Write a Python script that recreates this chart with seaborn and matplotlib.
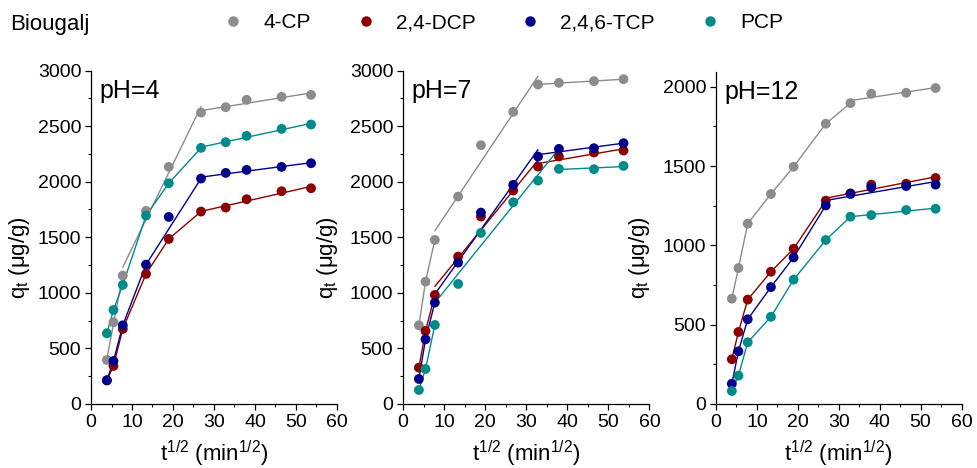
import numpy as np
import pandas as pd
import seaborn as sns
import matplotlib
matplotlib.use("Agg")
import matplotlib.pyplot as plt
from matplotlib.lines import Line2D
from matplotlib.ticker import MultipleLocator

# ---------------- data ----------------
sqrt_t = [3.87, 5.48, 7.75, 13.42, 18.97, 26.83, 32.86, 37.95, 46.48, 53.67]
compounds = ["4-CP", "2,4-DCP", "2,4,6-TCP", "PCP"]
colors = ["#8c8c8c", "#8b0000", "#00008b", "#008b8b"]
ph_labels = ["pH=4", "pH=7", "pH=12"]
legend_title = "Biougalj"

ph4_4cp = [396, 735, 1155, 1737, 2133, 2622, 2670, 2736, 2763, 2781]
ph4_dcp = [213, 342, 675, 1170, 1485, 1731, 1767, 1842, 1914, 1941]
ph4_tcp = [213, 387, 708, 1254, 1683, 2028, 2079, 2106, 2133, 2166]
ph4_pcp = [636, 846, 1071, 1695, 1986, 2304, 2355, 2412, 2475, 2514]

ph7_4cp = [708, 1101, 1476, 1866, 2328, 2628, 2874, 2889, 2904, 2922]
ph7_dcp = [327, 657, 981, 1326, 1686, 1920, 2136, 2226, 2262, 2280]
ph7_tcp = [225, 582, 912, 1272, 1722, 1971, 2226, 2295, 2301, 2346]
ph7_pcp = [126, 315, 711, 1080, 1539, 1815, 2010, 2115, 2112, 2142]

ph12_4cp = [664, 857, 1137, 1324, 1496, 1767, 1897, 1956, 1962, 1992]
ph12_dcp = [282, 454, 658, 834, 979, 1282, 1328, 1383, 1389, 1425]
ph12_tcp = [128, 332, 534, 737, 924, 1252, 1324, 1366, 1374, 1383]
ph12_pcp = [82, 179, 389, 550, 784, 1034, 1181, 1191, 1223, 1231]

panels = {
    "pH=4": [ph4_4cp, ph4_dcp, ph4_tcp, ph4_pcp],
    "pH=7": [ph7_4cp, ph7_dcp, ph7_tcp, ph7_pcp],
    "pH=12": [ph12_4cp, ph12_dcp, ph12_tcp, ph12_pcp],
}


# multilinear (intraparticle diffusion) stages: (indices used for the fit, draw from, draw to)
def chain(a, b):
    return [((i, i + 1), i, i + 1) for i in range(a, b)]


stages = {
    "pH=4": [
        [((0, 1, 2), 0, 2), ((2, 3, 4, 5), 2, 5), ((5, 6, 7, 8, 9), 5, 9)],
        chain(0, 5) + [((5, 6, 7, 8, 9), 5, 9)],
        chain(0, 3) + [((3, 5), 3, 5), ((5, 6, 7, 8, 9), 5, 9)],
        chain(0, 5) + [((5, 6, 7, 8, 9), 5, 9)],
    ],
    "pH=7": [
        chain(0, 2) + [((2, 3, 4, 5, 6), 2, 6), ((6, 7, 8, 9), 6, 9)],
        chain(0, 2) + [((2, 3, 4, 5, 6), 2, 6), ((6, 7, 8, 9), 6, 9)],
        chain(0, 2) + [((2, 3, 4, 5, 6), 2, 6), ((6, 7, 8, 9), 6, 9)],
        chain(0, 2) + [((3, 4, 5, 6), 2, 7), ((7, 8, 9), 7, 9)],
    ],
    "pH=12": [
        chain(0, 6) + [((6, 7, 8, 9), 6, 9)],
        chain(0, 5) + [((5, 6, 7, 8, 9), 5, 9)],
        chain(0, 5) + [((5, 6, 7, 8, 9), 5, 9)],
        chain(0, 6) + [((6, 7, 8, 9), 6, 9)],
    ],
}

rows = []
for ph, series in panels.items():
    for comp, vals in zip(compounds, series):
        for x, q in zip(sqrt_t, vals):
            rows.append({"ph": ph, "compound": comp, "x": x, "q": q})
df = pd.DataFrame(rows)

# ---------------- style ----------------
sns.set_theme(style="ticks")
plt.rcParams["font.family"] = ["Liberation Sans", "DejaVu Sans"]
plt.rcParams.update({
    "mathtext.fontset": "custom",
    "mathtext.rm": "Liberation Sans",
    "mathtext.it": "Liberation Sans:italic",
    "text.color": "black",
    "axes.labelcolor": "black",
    "axes.edgecolor": "black",
    "xtick.color": "black",
    "ytick.color": "black",
    "axes.linewidth": 0.9,
})

W, H = 977, 468
fig = plt.figure(figsize=(W / 100, H / 100), dpi=100)

axes_px = [  # left, right, top (px)
    (91, 337, 70.5),
    (403, 649.5, 70.5),
    (716, 961.5, 71.7),
]
ylims = [3000, 3000, 2095]
ymajors = [500, 500, 500]
ylabel_x = [-0.24, -0.255, -0.26]
pal = dict(zip(compounds, colors))

for k, ph in enumerate(ph_labels):
    l, r, t = axes_px[k]
    b = 404
    ax = fig.add_axes([l / W, 1 - b / H, (r - l) / W, (b - t) / H])
    sub = df[df["ph"] == ph]
    # fitted linear stages
    for ci, comp in enumerate(compounds):
        vals = np.array(panels[ph][ci], dtype=float)
        xs = np.array(sqrt_t)
        for idx, i0, i1 in stages[ph][ci]:
            idx = list(idx)
            m, c = np.polyfit(xs[idx], vals[idx], 1)
            xx = np.array([xs[i0], xs[i1]])
            ax.plot(xx, m * xx + c, color=colors[ci], lw=1.0, zorder=2)
    sns.scatterplot(data=sub, x="x", y="q", hue="compound", hue_order=compounds,
                    palette=pal, s=50, linewidth=0, legend=False, ax=ax, zorder=3)
    ax.set_xlim(0, 60)
    ax.set_ylim(0, ylims[k])
    ax.xaxis.set_major_locator(MultipleLocator(10))
    ax.xaxis.set_minor_locator(MultipleLocator(5))
    ax.yaxis.set_major_locator(MultipleLocator(ymajors[k]))
    ax.yaxis.set_minor_locator(MultipleLocator(ymajors[k] / 2))
    ax.tick_params(which="major", direction="out", length=4.5, width=0.9, labelsize=14, pad=2.5)
    ax.tick_params(which="minor", direction="out", length=2.5, width=0.8)
    sns.despine(ax=ax)
    ax.set_xlabel(r"t$^{\mathregular{1/2}}$ (min$^{\mathregular{1/2}}$)", fontsize=16, labelpad=6)
    ax.set_ylabel(r"q$_{\mathregular{t}}$ (μg/g)", fontsize=16)
    ax.yaxis.set_label_coords(ylabel_x[k], 0.44)
    ax.text(0.035, 0.918, ph, transform=ax.transAxes, fontsize=18, va="baseline", ha="left")

# legend row
fig.text(10 / W, 1 - 30 / H, legend_title, fontsize=16, va="baseline", ha="left")
handles = [Line2D([], [], marker="o", linestyle="none", color=c, markersize=7.5, markeredgewidth=0)
           for c in colors]
fig.legend(handles, compounds, loc="center left", bbox_to_anchor=(222.6 / W, 1 - 23 / H),
           ncol=4, frameon=False, fontsize=15, handlelength=1.0, handletextpad=0.94,
           columnspacing=2.14, borderpad=0, borderaxespad=0)

fig.savefig("out.png", dpi=100)
